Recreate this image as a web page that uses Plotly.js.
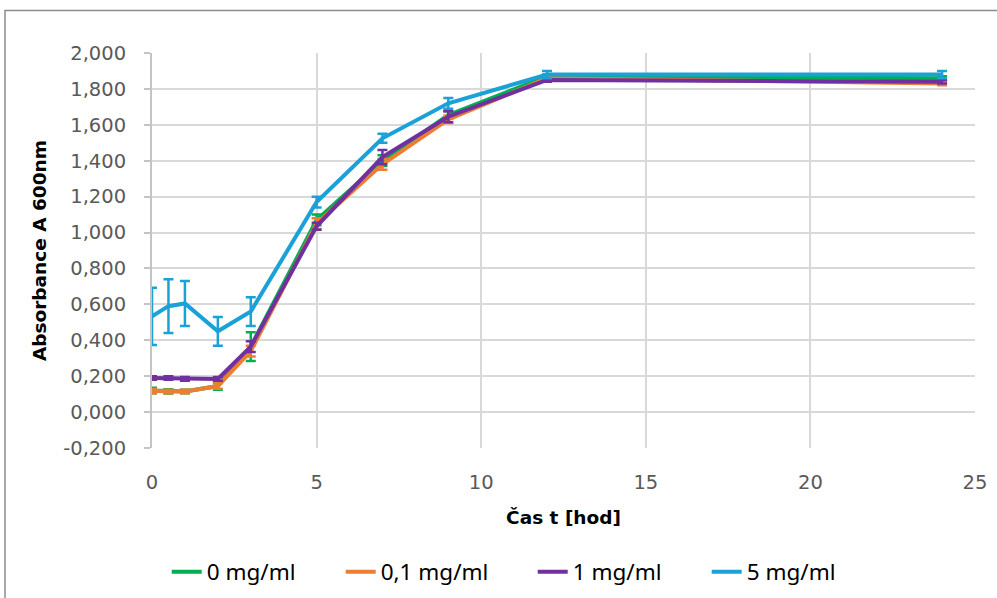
<!DOCTYPE html>
<html><head><meta charset="utf-8">
<script src="https://cdn.plot.ly/plotly-3.0.1.min.js"></script>
<style>html,body{margin:0;padding:0;background:#fff}#c{width:997px;height:598px}</style>
</head><body><div id="c"></div>
<script>
const time = [0, 0.5, 1, 2, 3, 5, 7, 9, 12, 24];
const seriesNames = ['0 mg/ml', '0,1 mg/ml', '1 mg/ml', '5 mg/ml'];
const a0 = [0.120, 0.115, 0.115, 0.145, 0.365, 1.070, 1.400, 1.655, 1.870, 1.860];
const a01 = [0.117, 0.115, 0.115, 0.145, 0.340, 1.050, 1.380, 1.630, 1.860, 1.830];
const a1 = [0.190, 0.190, 0.185, 0.185, 0.365, 1.035, 1.420, 1.645, 1.850, 1.840];
const a5 = [0.533, 0.590, 0.605, 0.450, 0.560, 1.170, 1.525, 1.720, 1.880, 1.880];
const e0 = [0.015, 0.012, 0.010, 0.020, 0.080, 0.030, 0.030, 0.020, 0.010, 0.010];
const e01 = [0.012, 0.010, 0.010, 0.015, 0.030, 0.030, 0.030, 0.020, 0.010, 0.010];
const e1 = [0.010, 0.010, 0.010, 0.010, 0.030, 0.020, 0.040, 0.030, 0.010, 0.010];
const e5 = [0.160, 0.150, 0.125, 0.080, 0.080, 0.030, 0.025, 0.030, 0.020, 0.020];
const yTickVals = [-0.2, 0, 0.2, 0.4, 0.6, 0.8, 1.0, 1.2, 1.4, 1.6, 1.8, 2.0];
const yTickText = ['-0,200', '0,000', '0,200', '0,400', '0,600', '0,800', '1,000', '1,200', '1,400', '1,600', '1,800', '2,000'];
const xTickVals = [0, 5, 10, 15, 20, 25];
const colors = ['#00B050', '#ED7D31', '#7030A0', '#1AA1D8'];
const legendWidths = [129, 147, 129, 123];
const values = [a0, a01, a1, a5];
const errs = [e0, e01, e1, e5];

const traces = values.map((v, i) => ({
  x: time, y: v, name: seriesNames[i], type: 'scatter', mode: 'lines',
  line: {color: colors[i], width: 4},
  legendwidth: legendWidths[i],
  error_y: {type: 'data', array: errs[i], visible: true, color: colors[i], thickness: 2.5, width: 5}
}));

const tickFont = {family: 'DejaVu Sans, sans-serif', size: 19.5, color: '#595959'};
const titleFont = {family: 'DejaVu Sans, sans-serif', size: 18.5, color: '#000', weight: 'bold'};

const layout = {
  width: 997, height: 598,
  paper_bgcolor: '#fff', plot_bgcolor: '#fff',
  margin: {l: 152, r: 22, t: 53, b: 150, autoexpand: false},
  font: {family: 'DejaVu Sans, sans-serif', color: '#595959', size: 18},
  xaxis: {
    range: [0, 25], tickmode: 'array', tickvals: xTickVals, showgrid: true, gridcolor: '#D9D9D9', gridwidth: 2,
    zeroline: false, showline: false, ticks: '', tickfont: tickFont, ticklabelstandoff: 20, automargin: false,
    title: {text: 'Čas t [hod]', font: titleFont, standoff: 18}
  },
  yaxis: {
    range: [-0.2, 2.0], tickmode: 'array', tickvals: yTickVals, ticktext: yTickText,
    showgrid: true, gridcolor: '#D9D9D9', gridwidth: 2, automargin: false,
    zeroline: false, showline: true, linecolor: '#C4C4C4', linewidth: 2, ticks: 'outside', ticklen: 6, tickcolor: '#C4C4C4', tickwidth: 1.5,
    tickfont: tickFont, ticklabelstandoff: 14,
    title: {text: 'Absorbance A 600nm', font: titleFont, standoff: 12}
  },
  showlegend: true,
  legend: {orientation: 'h', x: 0.448, xanchor: 'center', y: -0.314, yanchor: 'middle',
    font: {size: 22.5, color: '#000', family: 'Noto Sans, sans-serif'}, traceorder: 'normal', itemwidth: 30},
  shapes: [{type: 'rect', xref: 'paper', yref: 'paper', x0: -0.1786, x1: 1.2, y0: -0.6, y1: 1.1076,
    line: {color: '#8C8C8C', width: 1.5}, fillcolor: 'rgba(0,0,0,0)', layer: 'below'}]
};
Plotly.newPlot('c', traces, layout, {displayModeBar: false});
</script></body></html>
